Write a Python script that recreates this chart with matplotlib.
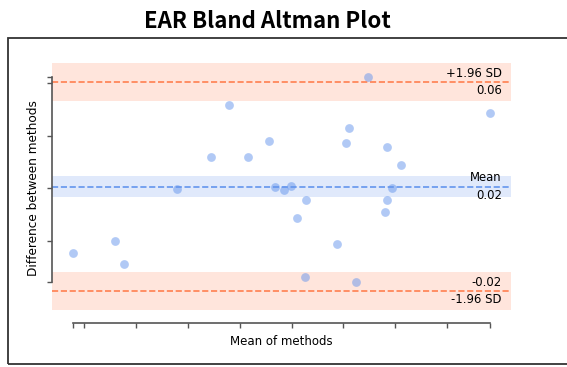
#!/usr/bin/env python3

import numpy as np
import matplotlib
matplotlib.use('Agg')
import matplotlib.pyplot as plt
import matplotlib.transforms as transforms
from matplotlib.patches import Rectangle

# mean of the two methods and their difference
mean_vals = [0.2178, 0.2260, 0.2276, 0.2379, 0.2445, 0.2480, 0.2515, 0.2556,
             0.2567, 0.2585, 0.2598, 0.2611, 0.2625, 0.2628, 0.2687, 0.2704,
             0.2711, 0.2725, 0.2748, 0.2781, 0.2784, 0.2784, 0.2793, 0.2811,
             0.2983]
diff_vals = [-0.0047, -0.0001, -0.0086, 0.0199, 0.0319, 0.0516, 0.0318, 0.0380,
             0.0205, 0.0192, 0.0209, 0.0089, -0.0135, 0.0157, -0.0013, 0.0373,
             0.0430, -0.0154, 0.0624, 0.0110, 0.0154, 0.0356, 0.0201, 0.0287,
             0.0487]
x_ticks = [0.22, 0.23, 0.24, 0.25, 0.26, 0.27, 0.28, 0.29]
y_ticks = [0.00, 0.02, 0.04, 0.06]

loa = 1.96
ci_z = 1.03  # width multiplier of the shaded confidence bands

point_colour = '#6495ED'
mean_colour = '#6495ED'
loa_colour = 'coral'


def main():
    x = np.array(mean_vals)
    d = np.array(diff_vals)
    n = len(d)
    md = d.mean()
    sd = d.std()
    upper = md + loa * sd
    lower = md - loa * sd

    ci_mean = ci_z * sd / np.sqrt(n)
    ci_loa = ci_z * np.sqrt((1 / n + loa ** 2 / (2 * (n - 1))) * sd ** 2)

    fig = plt.figure(figsize=(5.67, 3.67), dpi=100)
    ax = fig.add_axes([52 / 567, 44.5 / 367, 459 / 567, 272 / 367])

    ax.axhspan(md - ci_mean, md + ci_mean, facecolor=mean_colour, alpha=0.2, lw=0)
    ax.axhspan(upper - ci_loa, upper + ci_loa, facecolor=loa_colour, alpha=0.2, lw=0)
    ax.axhspan(lower - ci_loa, lower + ci_loa, facecolor=loa_colour, alpha=0.2, lw=0)

    ax.axhline(md, color=mean_colour, linestyle='--', lw=1.2)
    ax.axhline(upper, color=loa_colour, linestyle='--', lw=1.2)
    ax.axhline(lower, color=loa_colour, linestyle='--', lw=1.2)

    ax.scatter(x, d, s=40, c=point_colour, alpha=0.5, lw=0, zorder=3)

    trans = transforms.blended_transform_factory(ax.transAxes, ax.transData)
    off = (upper - lower) / 100.
    fs = 8.4
    ax.text(0.98, md + off, 'Mean', ha='right', va='bottom', transform=trans, fontsize=fs)
    ax.text(0.98, md - off, f'{md:.2f}', ha='right', va='top', transform=trans, fontsize=fs)
    ax.text(0.98, upper + off, f'+{loa:.2f} SD', ha='right', va='bottom', transform=trans, fontsize=fs)
    ax.text(0.98, upper - off, f'{upper:.2f}', ha='right', va='top', transform=trans, fontsize=fs)
    ax.text(0.98, lower + off, f'{lower:.2f}', ha='right', va='bottom', transform=trans, fontsize=fs)
    ax.text(0.98, lower - off, f'-{loa:.2f} SD', ha='right', va='top', transform=trans, fontsize=fs)

    # ticks at the regular steps plus the ends of the data, spines trimmed
    xt = sorted(x_ticks + [x.min(), x.max()])
    yt = sorted(y_ticks + [d.min(), d.max()])
    ax.set_xticks(xt)
    ax.set_yticks(yt)
    ax.tick_params(labelbottom=False, labelleft=False, length=3.5, width=1,
                   color='#555555')
    for side in ['top', 'right']:
        ax.spines[side].set_visible(False)
    ax.spines['bottom'].set_bounds(xt[0], xt[-1])
    ax.spines['left'].set_bounds(yt[0], yt[-1])
    for side in ['bottom', 'left']:
        ax.spines[side].set_color('#555555')
        ax.spines[side].set_linewidth(1.2)

    ax.set_xlabel('Mean of methods', fontsize=8.5)
    ax.set_ylabel('Difference between methods', fontsize=8.7)
    ax.xaxis.set_label_coords(0.5, -0.045)
    ax.yaxis.set_label_coords(-0.026, 0.496)

    # frame round the chart and the heading above it
    fig.patches.append(Rectangle((8 / 567, 3 / 367), 1.0, 326 / 367,
                                 transform=fig.transFigure, fill=False,
                                 edgecolor='#333333', lw=1.3))
    fig.text(267 / 567, 1 - 28 / 367, 'EAR Bland Altman Plot', ha='center',
             va='baseline', fontsize=16, fontweight='bold',
             family=['Noto Sans CJK KR', 'DejaVu Sans'])

    fig.savefig('out.png', dpi=100)


if __name__ == "__main__":
    main()
